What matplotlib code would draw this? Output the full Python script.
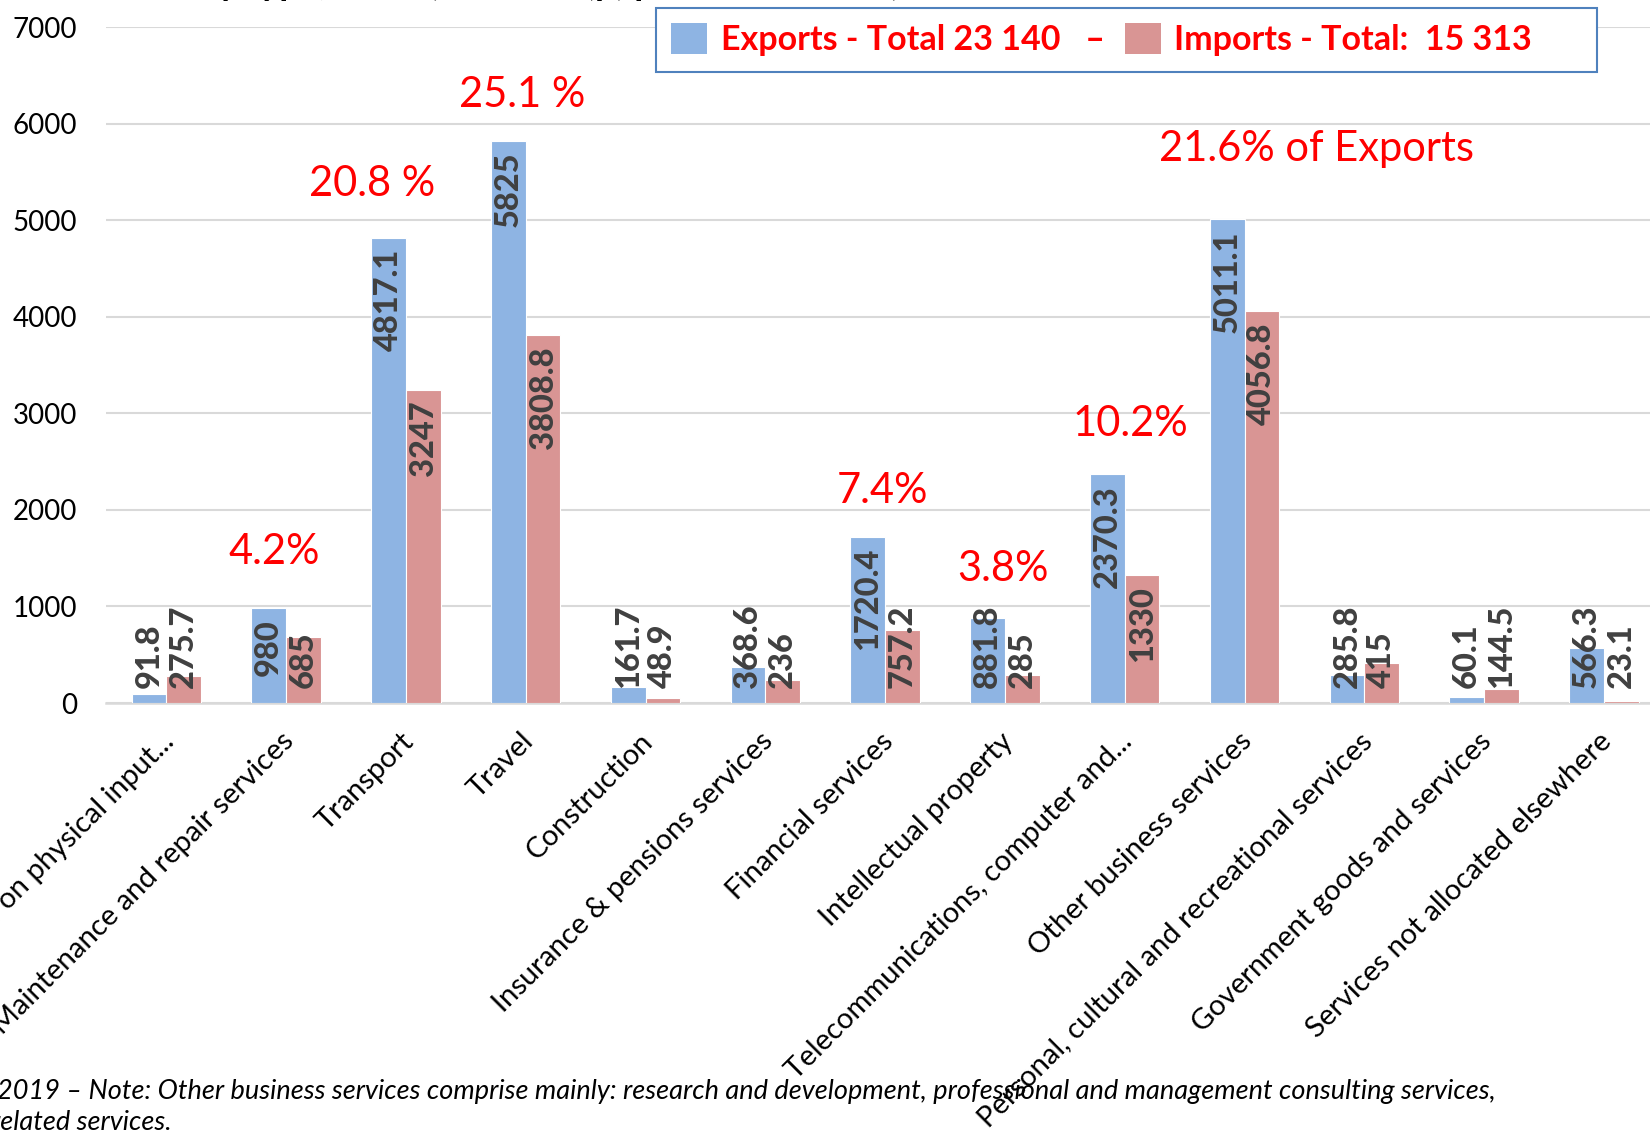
import numpy as np
import matplotlib.pyplot as plt
from matplotlib.patches import Patch
from matplotlib.transforms import ScaledTranslation

# Services by type, 2019 (values in EUR million)
categories = [
    "Manufacturing services on physical input...",
    "Maintenance and repair services",
    "Transport",
    "Travel",
    "Construction",
    "Insurance & pensions services",
    "Financial services",
    "Intellectual property",
    "Telecommunications, computer and...",
    "Other business services",
    "Personal, cultural and recreational services",
    "Government goods and services",
    "Services not allocated elsewhere",
]
exports = [91.8, 980, 4817.1, 5825, 161.7, 368.6, 1720.4, 881.8, 2370.3, 5011.1, 285.8, 60.1, 566.3]
imports = [275.7, 685, 3247, 3808.8, 48.9, 236, 757.2, 285, 1330, 4056.8, 415, 144.5, 23.1]
yticks = [0, 1000, 2000, 3000, 4000, 5000, 6000, 7000]

# share notes: (text, x in category units, y in data units)
share_notes = [
    ("4.2%", 0.9, 1560),
    ("20.8 %", 1.72, 5375),
    ("25.1 %", 2.97, 6300),
    ("7.4%", 5.98, 2200),
    ("3.8%", 6.98, 1385),
    ("10.2%", 8.05, 2890),
    ("21.6% of Exports", 9.6, 5735),
]

blue = '#8EB4E3'
red = '#D99594'

plt.rcParams['font.family'] = ['Lato', 'DejaVu Sans']

W, H = 1650, 1134
fig = plt.figure(figsize=(W / 100, H / 100), dpi=100)
ax = fig.add_axes([106.4 / W, 1 - 703 / H, 13 * 119.8 / W, (703 - 27.4) / H])

x = np.arange(len(categories))
bw = 0.29
b1 = ax.bar(x - bw / 2, exports, bw, color=blue, edgecolor='white', linewidth=0.8, zorder=3)
b2 = ax.bar(x + bw / 2, imports, bw, color=red, edgecolor='white', linewidth=0.8, zorder=3)

ax.set_xlim(-0.5, len(categories) - 0.5)
ax.set_ylim(0, 7000)
ax.set_yticks(yticks)
ax.tick_params(axis='y', length=0, pad=21, labelsize=20)
ax.grid(axis='y', color='#D9D9D9', linewidth=1.5, zorder=0)
for s in ['top', 'right', 'left']:
    ax.spines[s].set_visible(False)
ax.spines['bottom'].set_color('#D9D9D9')
ax.spines['bottom'].set_linewidth(1.8)

ax.set_xticks(x)
ax.set_xticklabels(categories, rotation=45, ha='right', rotation_mode='anchor', fontsize=21)
ax.tick_params(axis='x', length=0, pad=18)
for lbl in ax.get_xticklabels():
    lbl.set_transform(lbl.get_transform() + ScaledTranslation(-4 / 72, 0, fig.dpi_scale_trans))

for txt, px, py in share_notes:
    ax.text(px, py, txt, color='red', fontsize=30, ha='center', va='center')

# data labels: inside end, pushed up from the base when they do not fit
fig.canvas.draw()
renderer = fig.canvas.get_renderer()
base_px = ax.transData.transform((0, 0))[1]
for bars, vals in ((b1, exports), (b2, imports)):
    for rect, v in zip(bars, vals):
        cx = rect.get_x() + rect.get_width() / 2
        t = ax.annotate(f"{v:g}", (cx, v), xytext=(0, -8), textcoords='offset points',
                        rotation=90, ha='center', va='top', color='#404040',
                        weight='black', fontsize=23.5, zorder=4)
        bb = t.get_window_extent(renderer)
        if bb.y0 < base_px + 16:
            t.xy = (cx, 0)
            t.set_position((0, 11))
            t.set_va('bottom')

leg = fig.legend([Patch(facecolor=blue), Patch(facecolor=red)],
                 ["Exports - Total 23 140   \u2013", "Imports - Total:  15 313      "],
                 loc='upper left', bbox_to_anchor=(656 / W, 1 - 8 / H), ncol=2,
                 frameon=True, fancybox=False, edgecolor='#4F81BD', framealpha=1,
                 prop=dict(weight='bold', size=24.5),
                 labelcolor='red', handlelength=1.05, handleheight=1.0,
                 handletextpad=0.4, columnspacing=0.6, borderpad=0.45, borderaxespad=0)
leg.get_frame().set_linewidth(1.5)

# title, almost all of it above the visible area
fig.text(900 / W, 1 + 5 / H, "Trade in services by type, 2019 (\u20ac million (p) provisional data)",
         ha='right', va='baseline', fontsize=26, weight='bold')

fig.text(-3 / W, 1 - 1091 / H,
         "2019 \u2013 Note: Other business services comprise mainly: research and development, "
         "professional and management consulting services,",
         ha='left', va='center', style='italic', fontsize=19.5)
fig.text(-9 / W, 1 - 1123 / H, "related services.", ha='left', va='center', style='italic', fontsize=19.5)

fig.savefig('out.png', dpi=100)
